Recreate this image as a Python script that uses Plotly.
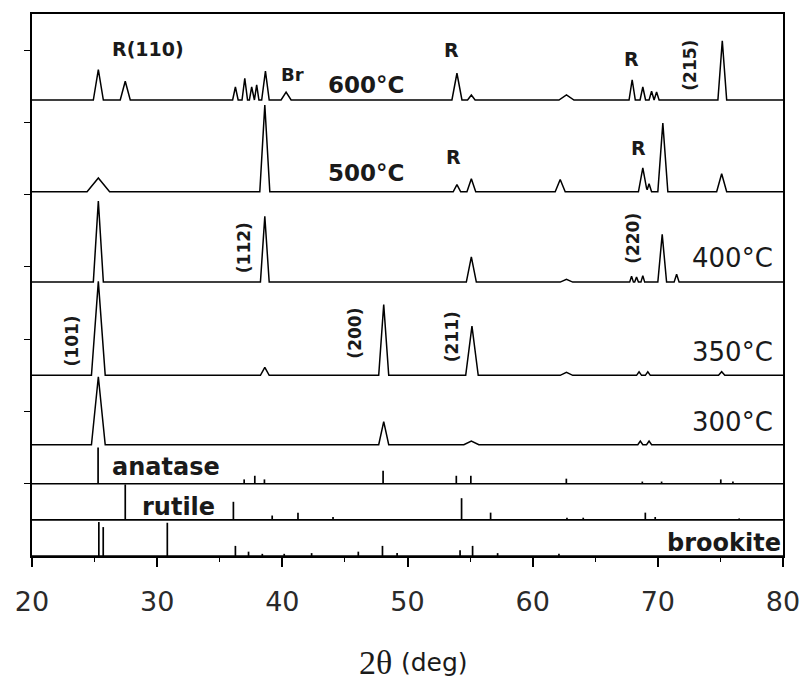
import plotly.graph_objects as go

# ---------------- data (2theta in deg, intensities in offset units) ----------------
# sample patterns: peak positions, peak heights above baseline, half base widths
T600_BASE = 6.31
T600_POS = [25.3, 27.45, 36.25, 37.0, 37.55, 37.95, 38.65, 40.3, 53.95, 55.1, 62.7, 67.95, 68.8, 69.5, 69.9, 75.15]
T600_INT = [0.42, 0.26, 0.18, 0.30, 0.18, 0.21, 0.40, 0.11, 0.37, 0.07, 0.07, 0.28, 0.18, 0.12, 0.11, 0.82]
T600_WID = [0.4, 0.4, 0.22, 0.22, 0.18, 0.18, 0.3, 0.4, 0.4, 0.3, 0.6, 0.25, 0.22, 0.2, 0.2, 0.35]

T500_BASE = 5.04
T500_POS = [25.3, 38.6, 53.95, 55.1, 62.2, 68.8, 69.3, 70.4, 75.1]
T500_INT = [0.19, 1.20, 0.10, 0.18, 0.17, 0.33, 0.11, 0.95, 0.25]
T500_WID = [0.9, 0.4, 0.3, 0.35, 0.4, 0.35, 0.2, 0.4, 0.4]

T400_BASE = 3.79
T400_POS = [25.3, 38.6, 55.1, 62.7, 67.9, 68.3, 68.8, 70.35, 71.5]
T400_INT = [1.12, 0.91, 0.35, 0.04, 0.08, 0.07, 0.09, 0.66, 0.11]
T400_WID = [0.4, 0.35, 0.4, 0.5, 0.15, 0.15, 0.15, 0.35, 0.2]

T350_BASE = 2.50
T350_POS = [25.3, 38.6, 48.1, 55.15, 62.7, 68.5, 69.2, 75.1]
T350_INT = [1.30, 0.11, 0.98, 0.68, 0.04, 0.05, 0.05, 0.05]
T350_WID = [0.55, 0.35, 0.4, 0.5, 0.5, 0.2, 0.2, 0.25]

T300_BASE = 1.54
T300_POS = [25.3, 48.1, 55.1, 68.6, 69.3]
T300_INT = [0.94, 0.32, 0.05, 0.05, 0.05]
T300_WID = [0.55, 0.4, 0.6, 0.2, 0.2]

# reference stick patterns
ANATASE_BASE = 1.0
ANATASE_POS = [25.28, 36.95, 37.8, 38.57, 48.05, 53.9, 55.06, 62.69, 68.76, 70.3, 75.03, 76.0]
ANATASE_INT = [0.50, 0.06, 0.11, 0.06, 0.18, 0.11, 0.11, 0.07, 0.03, 0.03, 0.06, 0.03]

RUTILE_BASE = 0.5
RUTILE_POS = [27.45, 36.09, 39.19, 41.25, 44.05, 54.32, 56.64, 62.74, 64.04, 69.0, 69.79, 76.5]
RUTILE_INT = [0.49, 0.25, 0.06, 0.10, 0.04, 0.30, 0.10, 0.03, 0.03, 0.10, 0.04, 0.02]

BROOKITE_BASE = 0.0
BROOKITE_POS = [25.34, 25.69, 30.81, 36.25, 37.3, 38.4, 40.15, 42.34, 46.07, 48.0, 49.17, 54.2, 55.2, 57.2, 62.1]
BROOKITE_INT = [0.47, 0.40, 0.46, 0.14, 0.06, 0.03, 0.03, 0.04, 0.06, 0.14, 0.04, 0.08, 0.14, 0.04, 0.03]

X_TICKS = [20, 30, 40, 50, 60, 70, 80]
Y_TICKS = [1, 2, 3, 4, 5, 6, 7]

FONT = "DejaVu Sans"
INK = "#1a1a1a"


def profile(pos, inten, wid, base):
    xs = sorted(set([20.0, 80.0] + [p + d for p, w in zip(pos, wid) for d in (-w, 0.0, w)]))
    ys = []
    for x in xs:
        s = 0.0
        for p, h, w in zip(pos, inten, wid):
            s += max(0.0, h * (1 - abs(x - p) / w))
        ys.append(base + s)
    return xs, ys


def sticks(pos, inten, base):
    xs, ys = [20, 80, None], [base, base, None]
    for p, h in zip(pos, inten):
        xs += [p, p, None]
        ys += [base, base + h, None]
    return xs, ys


fig = go.Figure()

for pos, inten, wid, base in [
    (T600_POS, T600_INT, T600_WID, T600_BASE),
    (T500_POS, T500_INT, T500_WID, T500_BASE),
    (T400_POS, T400_INT, T400_WID, T400_BASE),
    (T350_POS, T350_INT, T350_WID, T350_BASE),
    (T300_POS, T300_INT, T300_WID, T300_BASE),
]:
    x, y = profile(pos, inten, wid, base)
    fig.add_trace(go.Scatter(x=x, y=y, mode="lines", line=dict(color="black", width=1.5),
                             hoverinfo="skip", showlegend=False))

for pos, inten, base in [
    (ANATASE_POS, ANATASE_INT, ANATASE_BASE),
    (RUTILE_POS, RUTILE_INT, RUTILE_BASE),
    (BROOKITE_POS, BROOKITE_INT, BROOKITE_BASE),
]:
    x, y = sticks(pos, inten, base)
    fig.add_trace(go.Scatter(x=x, y=y, mode="lines", line=dict(color="black", width=1.7),
                             hoverinfo="skip", showlegend=False))

annots = []


def lab(text, x, y, size, bold=True, angle=0, xanchor="center"):
    t = f"<b>{text}</b>" if bold else text
    annots.append(dict(text=t, x=x, y=y, xref="x", yref="y", showarrow=False,
                       textangle=angle, xanchor=xanchor, yanchor="middle",
                       font=dict(family=FONT, size=size, color=INK)))


lab("R(110)", 29.27, 7.02, 19)
lab("Br", 40.85, 6.66, 18)
lab("600°C", 46.7, 6.52, 23)
lab("R", 53.55, 7.0, 19)
lab("R", 67.9, 6.88, 19)
lab("(215)", 72.6, 6.79, 17, angle=-90)
lab("500°C", 46.7, 5.30, 23)
lab("R", 53.7, 5.52, 19)
lab("R", 68.48, 5.65, 19)
lab("(112)", 37.0, 4.27, 17, angle=-90)
lab("(220)", 68.0, 4.40, 17, angle=-90)
lab("400°C", 79.4, 4.12, 26, bold=False, xanchor="right")
lab("(101)", 23.2, 2.97, 17, angle=-90)
lab("(200)", 45.8, 3.09, 17, angle=-90)
lab("(211)", 53.55, 3.04, 17, angle=-90)
lab("350°C", 79.4, 2.82, 26, bold=False, xanchor="right")
lab("300°C", 79.4, 1.85, 26, bold=False, xanchor="right")
lab("anatase", 26.2, 1.23, 24, xanchor="left")
lab("rutile", 28.6, 0.68, 24, xanchor="left")
lab("brookite", 80.0, 0.18, 24, xanchor="right")

# axis title: serif "2θ" + sans "(deg)"
annots.append(dict(text="2θ", x=0.482, y=-0.196, xref="paper", yref="paper", showarrow=False,
                   xanchor="right", yanchor="middle",
                   font=dict(family="Liberation Serif", size=34, color=INK)))
annots.append(dict(text="(deg)", x=0.489, y=-0.196, xref="paper", yref="paper", showarrow=False,
                   xanchor="left", yanchor="middle",
                   font=dict(family=FONT, size=25, color=INK)))

# the page body adds an 8px offset; size the figure so the plot frame lands where the reference has it
fig.update_layout(
    width=800, height=674,
    margin=dict(l=24, r=25, t=6, b=126),
    paper_bgcolor="white", plot_bgcolor="white",
    annotations=annots,
    xaxis=dict(
        range=[20, 80], tickvals=X_TICKS, ticktext=[str(v) for v in X_TICKS],
        ticks="outside", ticklen=9, tickwidth=1.5, tickcolor="black",
        minor=dict(dtick=5, ticks="outside", ticklen=4, tickwidth=1.2, tickcolor="black"),
        showline=True, linecolor="black", linewidth=1.6, mirror=True,
        showgrid=False, zeroline=False, automargin=False,
        tickfont=dict(family=FONT, size=27, color="#2a2a2a"),
        ticklabelstandoff=12,
    ),
    yaxis=dict(
        range=[0, 7.5], tickvals=Y_TICKS, showticklabels=False,
        ticks="outside", ticklen=6, tickwidth=1.3, tickcolor="black",
        showline=True, linecolor="black", linewidth=1.6, mirror=True,
        showgrid=False, zeroline=False, automargin=False,
    ),
)

fig.write_html("out.html")
